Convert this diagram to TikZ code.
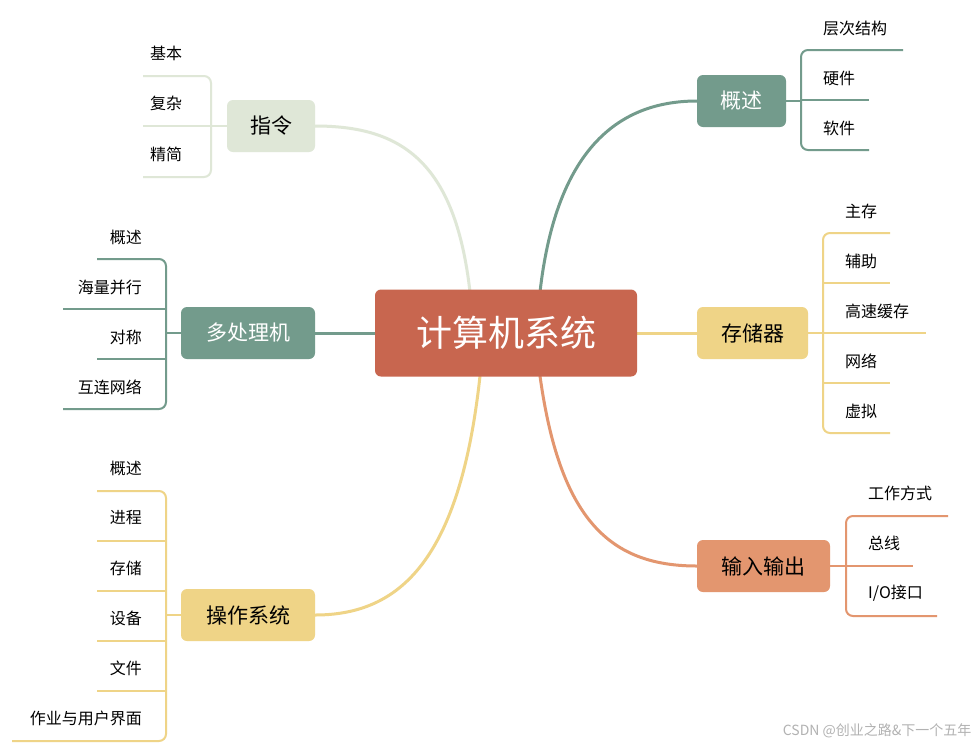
\documentclass[tikz,border=0pt]{standalone}
\usepackage{fontspec}
\setmainfont{Noto Sans CJK SC}
\begin{document}
\begin{tikzpicture}[x=1pt,y=-1pt,
 box/.style={rounded corners=6pt,minimum height=52pt,inner sep=0pt,font=\fontsize{21}{24}\selectfont},
 leaf/.style={font=\fontsize{16}{19}\selectfont,inner sep=0pt},
 conn/.style={line width=3pt},
 lf/.style={line width=2pt,rounded corners=7pt}]
\definecolor{cR}{HTML}{C8664F}\definecolor{cG}{HTML}{739B8C}\definecolor{cL}{HTML}{DFE7D7}
\definecolor{cY}{HTML}{EFD487}\definecolor{cO}{HTML}{E3966F}
\useasboundingbox (0,0) rectangle (979,748);
\fill[white] (0,0) rectangle (979,748);
% connectors
\draw[conn,cL] (470,292) .. controls (455,160) and (400,126) .. (315,126);
\draw[conn,cG] (376,333) -- (315,333);
\draw[conn,cY] (480,376) .. controls (460,560) and (400,615) .. (315,615);
\draw[conn,cG] (540,292) .. controls (555,160) and (610,101) .. (697,101);
\draw[conn,cY] (636,333) -- (697,333);
\draw[conn,cO] (540,376) .. controls (560,520) and (610,566) .. (697,566);
% center and branch nodes
\node[box,fill=cR,text=white,minimum width=262pt,minimum height=87pt,font=\fontsize{36}{40}\selectfont] (c) at (506,333) {计算机系统};
\node[box,fill=cL,minimum width=88pt] (zl) at (271,126) {指令};
\node[box,fill=cG,text=white,minimum width=134pt] (dc) at (248,333) {多处理机};
\node[box,fill=cY,minimum width=134pt] (cz) at (248,615) {操作系统};
\node[box,fill=cG,text=white,minimum width=89pt] (gs) at (741.5,101) {概述};
\node[box,fill=cY,minimum width=111pt] (cc) at (752.5,333) {存储器};
\node[box,fill=cO,minimum width=133pt] (io) at (763.5,566) {输入输出};
% left leaves: 指令
\draw[lf,cL] (143,76) -- (211,76) -- (211,177) -- (143,177);
\draw[lf,cL] (143,126) -- (227,126);
\foreach \t/\y in {基本/53,复杂/103,精简/154} \node[leaf,anchor=west] at (150,\y) {\t};
% 多处理机
\draw[lf,cG] (97,259) -- (166,259) -- (166,409) -- (63,409);
\draw[lf,cG] (63,309) -- (166,309); \draw[lf,cG] (97,359) -- (166,359); \draw[lf,cG] (166,333) -- (181,333);
\foreach \t/\y in {概述/237,海量并行/287,对称/337,互连网络/387} \node[leaf,anchor=east] at (142,\y) {\t};
% 操作系统
\draw[lf,cY] (97,491) -- (166,491) -- (166,741) -- (12,741);
\foreach \y/\l in {541/97,591/97,641/97,691/97} \draw[lf,cY] (\l,\y) -- (166,\y);
\draw[lf,cY] (166,615) -- (181,615);
\foreach \t/\y in {概述/468,进程/518,存储/568,设备/618,文件/668,作业与用户界面/718} \node[leaf,anchor=east] at (142,\y) {\t};
% 概述 right
\draw[lf,cG] (903,50) -- (801,50) -- (801,150) -- (869,150);
\draw[lf,cG] (801,100) -- (869,100); \draw[lf,cG] (786,101) -- (801,101);
\foreach \t/\y in {层次结构/28,硬件/78,软件/128} \node[leaf,anchor=west] at (823,\y) {\t};
% 存储器
\draw[lf,cY] (890,233) -- (823,233) -- (823,433) -- (890,433);
\draw[lf,cY] (823,283) -- (890,283); \draw[lf,cY] (823,383) -- (890,383); \draw[lf,cY] (808,333) -- (926,333);
\foreach \t/\y in {主存/211,辅助/261,高速缓存/311,网络/361,虚拟/411} \node[leaf,anchor=west] at (845,\y) {\t};
% 输入输出
\draw[lf,cO] (948,516) -- (846,516) -- (846,616) -- (937,616);
\draw[lf,cO] (830,566) -- (913,566);
\node[leaf,anchor=west] (io1) at (868,493) {工作方式};
\node[leaf,anchor=west] (io2) at (868,543) {总线};
\node[leaf,anchor=west] (io3) at (868,593) {I/O接口};
\node[font=\fontsize{14}{16}\selectfont,text=gray!60,anchor=east] at (975,731) {CSDN @创业之路\&下一个五年};
\end{tikzpicture}
\end{document}
